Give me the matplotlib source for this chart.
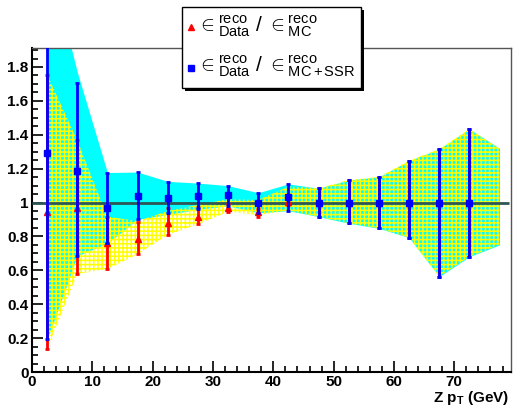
import matplotlib
matplotlib.use("Agg")
import matplotlib.pyplot as plt
from matplotlib.patches import Rectangle
from matplotlib.lines import Line2D
from matplotlib.ticker import MultipleLocator

plt.rcParams["font.family"] = ["Liberation Sans", "DejaVu Sans"]
plt.rcParams["mathtext.fontset"] = "custom"
plt.rcParams["mathtext.rm"] = "Liberation Sans"
plt.rcParams["mathtext.it"] = "Liberation Sans:italic"
plt.rcParams["mathtext.bf"] = "Liberation Sans:bold"
plt.rcParams["hatch.linewidth"] = 1.1

# Z pT bin centres (GeV)
pt_centers = [2.5, 7.5, 12.5, 17.5, 22.5, 27.5, 32.5, 37.5, 42.5, 47.5, 52.5, 57.5, 62.5, 67.5, 72.5]

# eff(Data) / eff(MC)
ratio_mc = [0.944, 0.970, 0.760, 0.785, 0.880, 0.915, 0.970, 0.945, 1.005, 1.0, 1.0, 1.0, 1.0, 1.0, 1.0]
mc_err_lo = [0.808, 0.391, 0.152, 0.090, 0.072, 0.043, 0.027, 0.028, 0.020, 0.083, 0.122, 0.152, 0.207, 0.437, 0.319]
mc_err_hi = [0.811, 0.398, 0.157, 0.102, 0.086, 0.061, 0.020, 0.015, 0.020, 0.084, 0.133, 0.151, 0.247, 0.316, 0.434]

# eff(Data) / eff(MC+SSR)
ratio_ssr = [1.295, 1.187, 0.966, 1.041, 1.027, 1.037, 1.043, 1.0, 1.035, 1.0, 1.0, 1.0, 1.0, 1.0, 1.0]
ssr_err_lo = [1.102, 0.502, 0.206, 0.141, 0.090, 0.075, 0.063, 0.060, 0.083, 0.083, 0.122, 0.152, 0.207, 0.437, 0.319]
ssr_err_hi = [1.100, 0.517, 0.211, 0.138, 0.096, 0.077, 0.055, 0.058, 0.075, 0.084, 0.133, 0.151, 0.247, 0.316, 0.434]

# uncertainty bands
band_x = [2.5, 7.5, 12.5, 17.5, 22.5, 27.5, 32.5, 37.5, 42.5, 47.5, 52.5, 57.5, 62.5, 67.5, 72.5, 77.5]
band_mc_hi = [1.755, 1.368, 0.917, 0.890, 0.950, 0.986, 1.020, 1.015, 1.095, 1.084, 1.133, 1.151, 1.247, 1.316, 1.434, 1.320]
band_mc_lo = [0.136, 0.579, 0.608, 0.695, 0.809, 0.872, 0.946, 0.927, 0.952, 0.917, 0.878, 0.848, 0.793, 0.563, 0.681, 0.750]
band_ssr_hi = [2.480, 1.770, 1.177, 1.180, 1.125, 1.115, 1.100, 1.058, 1.110, 1.084, 1.133, 1.151, 1.247, 1.316, 1.434, 1.320]
band_ssr_lo = [0.190, 0.685, 0.760, 0.900, 0.930, 0.960, 0.980, 0.940, 0.952, 0.917, 0.878, 0.848, 0.793, 0.563, 0.681, 0.750]

fig = plt.figure(figsize=(5.22, 4.08), dpi=100)
W, H = 522, 408
ax = fig.add_axes([32 / W, 1 - 372 / H, (511 - 32) / W, (372 - 47.5) / H])

ax.fill_between(band_x, band_ssr_lo, band_ssr_hi, color="#00ffff", lw=0, zorder=1)
ax.fill_between(band_x, band_mc_lo, band_mc_hi, facecolor="none", edgecolor="#ffff00",
                hatch="++++", lw=0, zorder=2)
ax.hlines(1.0, 0, 79, color="#2f5555", lw=2, zorder=3)

ax.errorbar(pt_centers, ratio_mc, yerr=[mc_err_lo, mc_err_hi], fmt="^", color="#ff0000",
            ms=5, elinewidth=2, capsize=1.5, capthick=2, zorder=4)
ax.errorbar(pt_centers, ratio_ssr, yerr=[ssr_err_lo, ssr_err_hi], fmt="s", color="#0000ff",
            ms=5, elinewidth=2, capsize=1.5, capthick=2, zorder=5)

ax.set_xlim(0, 79.4)
ax.set_ylim(0, 1.915)
ax.xaxis.set_major_locator(MultipleLocator(10))
ax.xaxis.set_minor_locator(MultipleLocator(2))
ax.yaxis.set_minor_locator(MultipleLocator(0.05))
ax.set_yticks([0, 0.2, 0.4, 0.6, 0.8, 1.0, 1.2, 1.4, 1.6, 1.8])
ax.set_yticklabels(["0", "0.2", "0.4", "0.6", "0.8", "1", "1.2", "1.4", "1.6", "1.8"])
ax.tick_params(which="both", direction="in", top=False, right=False, width=1.2)
ax.tick_params(which="major", length=8, labelsize=11, pad=2.5)
ax.tick_params(which="minor", length=4)
for lab in ax.get_xticklabels() + ax.get_yticklabels():
    lab.set_fontweight("bold")
for side in ("left", "bottom"):
    ax.spines[side].set_linewidth(1.5)
for side in ("top", "right"):
    ax.spines[side].set_linewidth(1.0)
    ax.spines[side].set_color("#555555")

fig.text(509 / W, 1 - 402 / H, r"Z p$_{\mathbf{T}}$ (GeV)", ha="right", va="baseline",
         fontsize=11, fontweight="bold")

# legend box with shadow
fig.patches.append(Rectangle((185 / W, 1 - 91 / H), (361 - 182) / W, (88 - 7) / H,
                             transform=fig.transFigure, facecolor="black", edgecolor="none", zorder=10))
fig.patches.append(Rectangle((182 / W, 1 - 88 / H), (361 - 182) / W, (88 - 7) / H,
                             transform=fig.transFigure, facecolor="white", edgecolor="black",
                             lw=1, zorder=11))
fig.lines.append(Line2D([191 / W], [1 - 27 / H], transform=fig.transFigure, marker="^",
                        color="#ff0000", ms=4.5, ls="none", zorder=12))
fig.lines.append(Line2D([191 / W], [1 - 68 / H], transform=fig.transFigure, marker="s",
                        color="#0000ff", ms=4.5, ls="none", zorder=12))
fig.text(197 / W, 1 - 26 / H, r"$\in^{\rm reco}_{\rm Data}$ / $\in^{\rm reco}_{\rm MC}$",
         ha="left", va="center", fontsize=15, zorder=12)
fig.text(197 / W, 1 - 66 / H, r"$\in^{\rm reco}_{\rm Data}$ / $\in^{\rm reco}_{\rm MC+SSR}$",
         ha="left", va="center", fontsize=15, zorder=12)

fig.savefig("out.png", dpi=100)
